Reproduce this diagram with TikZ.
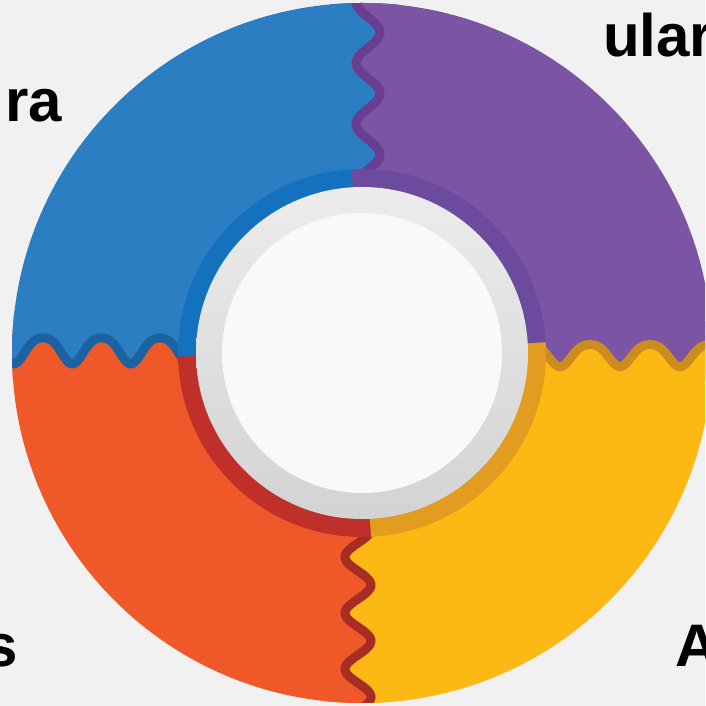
\documentclass[tikz,border=0pt]{standalone}
\usepackage{fontspec}
\setmainfont{Liberation Sans}
\usepackage{tikz}

\definecolor{bgcol}{HTML}{F1F1F1}
\definecolor{ringblue}{HTML}{2B7EC1}
\definecolor{ringpurple}{HTML}{7B55A4}
\definecolor{ringyellow}{HTML}{FDB913}
\definecolor{ringred}{HTML}{EF5829}
\definecolor{bandblue}{HTML}{1471BE}
\definecolor{bandpurple}{HTML}{6C4A9E}
\definecolor{bandyellow}{HTML}{E29C20}
\definecolor{bandred}{HTML}{C0302B}
\definecolor{seamblue}{HTML}{1B62A0}
\definecolor{seampurple}{HTML}{693E90}
\definecolor{seamyellow}{HTML}{CC8D1F}
\definecolor{seamred}{HTML}{A62C24}
\definecolor{holelight}{HTML}{ECECEC}
\definecolor{holedark}{HTML}{D3D3D3}
\definecolor{holewhite}{HTML}{F7F9FA}

\tikzset{
  seamline/.style={line width=9pt, line cap=round},
  cornertext/.style={inner sep=0pt, font=\fontsize{60}{60}\selectfont\bfseries},
}

\begin{document}
\begin{tikzpicture}[x=1pt,y=1pt]
\clip (0,0) rectangle (705,706);
\fill[bgcol] (0,0) rectangle (705,706);

% coloured ring
\begin{scope}
\clip (362,353) circle (350);
\fill[ringblue] (0,353) rectangle (362,706);
\fill[ringpurple] (362,353) rectangle (720,706);
\fill[ringyellow] (362,-10) rectangle (720,353);
\fill[ringred] (0,-10) rectangle (362,353);

% top seam
\fill[ringblue] (330,490) rectangle (400,716);
\fill[ringpurple] plot[domain=-10:215, samples=90, variable=\t] ({368-12*cos((\t-2)*5.9016)}, {706-\t}) -- (400,491) -- (400,716) -- cycle;
\draw[seamline, seampurple] plot[domain=-10:200, samples=90, variable=\t] ({368-12*cos((\t-2)*5.9016)}, {706-\t});

% left seam
\fill[ringred] (-10,325) rectangle (210,395);
\fill[ringblue] plot[domain=-10:210, samples=110, variable=\t] ({\t}, {357+13*(cos((\t-43)*6.1538)-0.15*cos((\t-43)*12.3077))}) -- (210,395) -- (-10,395) -- cycle;
\draw[seamline, seamblue] plot[domain=-10:200, samples=110, variable=\t] ({\t}, {357+13*(cos((\t-43)*6.1538)-0.15*cos((\t-43)*12.3077))});

% right seam
\fill[ringpurple] (510,325) rectangle (720,385);
\fill[ringyellow] plot[domain=510:720, samples=110, variable=\t] ({\t}, {352+11*(cos((\t-590)*6)-0.15*cos((\t-590)*12))}) -- (720,325) -- (510,325) -- cycle;
\draw[seamline, seamyellow] plot[domain=520:720, samples=110, variable=\t] ({\t}, {352+11*(cos((\t-590)*6)-0.15*cos((\t-590)*12))});

% bottom seam
\fill[ringyellow] (325,-10) rectangle (395,206);
\fill[ringred] plot[domain=500:716, samples=90, variable=\t] ({358+13*cos((\t-585)*6.4286)}, {706-\t}) -- (325,-10) -- (325,206) -- cycle;
\draw[seamline, seamred] plot[domain=510:716, samples=90, variable=\t] ({358+13*cos((\t-585)*6.4286)}, {706-\t});
\end{scope}

% darker inner band
\begin{scope}
\clip (362,353) circle (184);
\fill[bandblue] (362,353) -- (348,606) -- (100,606) -- (100,348) -- cycle;
\fill[bandpurple] (362,353) -- (348,606) -- (620,606) -- (620,368) -- cycle;
\fill[bandyellow] (362,353) -- (620,368) -- (620,100) -- (374,100) -- cycle;
\fill[bandred] (362,353) -- (374,100) -- (100,100) -- (100,348) -- cycle;
\end{scope}

% hole
\shade[top color=holelight, bottom color=holedark] (362,353) circle (166);
\fill[holewhite] (362,353) circle (140);

% corner texts
\node[cornertext, anchor=base east] (txtra) at (62,584) {ra};
\node[cornertext, anchor=base west] (txtular) at (603,649) {ular};
\node[cornertext, anchor=base east] (txts) at (18,39) {s};
\node[cornertext, anchor=base west] (txta) at (675,39) {A};
\end{tikzpicture}
\end{document}
